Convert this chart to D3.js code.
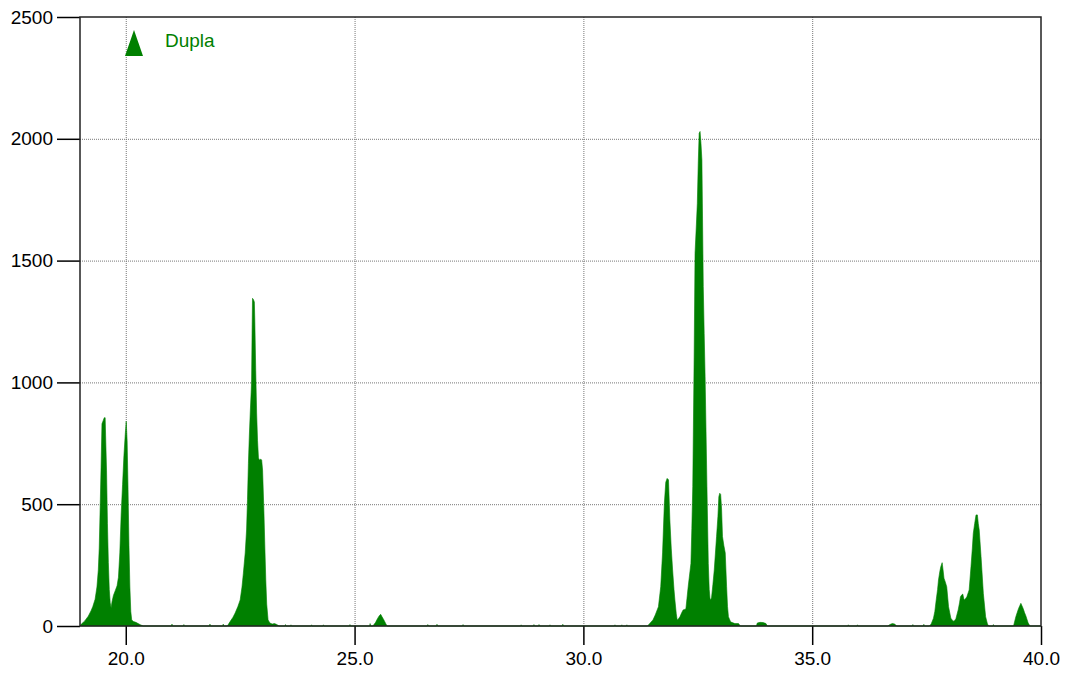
<!DOCTYPE html>
<html>
<head>
<meta charset="utf-8">
<script src="https://cdn.jsdelivr.net/npm/d3@7"></script>
<style>
  body { margin: 0; background: #fff; }
  text { font-family: Arial, "Liberation Sans", sans-serif; }
</style>
</head>
<body>
<div id="chart"></div>
<script>
// diffraction pattern, 2-theta vs counts
var twoTheta = [
  19.00, 19.03, 19.10, 19.18, 19.24, 19.28, 19.33, 19.37, 19.40, 19.42, 19.44, 19.46, 19.48, 19.51, 19.53, 19.55,
  19.56, 19.58, 19.60, 19.62, 19.64, 19.66, 19.68, 19.70, 19.73, 19.77, 19.81, 19.84, 19.87, 19.90, 19.93, 19.96,
  19.99, 20.01, 20.03, 20.05, 20.07, 20.09, 20.11, 20.13, 20.17, 20.22, 20.27, 20.32, 20.38,
  21.00, 21.01, 21.02, 21.26, 21.27, 21.28, 21.83, 21.84, 21.85, 22.12, 22.13, 22.14,
  22.22, 22.28, 22.34, 22.39, 22.45, 22.50, 22.54, 22.57, 22.61, 22.64, 22.66, 22.68, 22.70, 22.72, 22.74, 22.75,
  22.76, 22.77, 22.79, 22.81, 22.82, 22.84, 22.86, 22.88, 22.90, 22.92, 22.95, 22.97, 22.99, 23.02, 23.04, 23.06,
  23.08, 23.11, 23.15, 23.20, 23.25, 23.30, 23.35,
  23.48, 23.49, 23.50, 23.60, 23.61, 23.62, 24.05, 24.06, 24.07, 24.31, 24.32, 24.33, 24.89, 24.90, 24.91,
  25.33, 25.34, 25.35, 25.40, 25.46, 25.50, 25.54, 25.57, 25.60, 25.64, 25.68, 25.71,
  26.59, 26.60, 26.62, 26.79, 26.80, 26.82, 27.36, 27.37, 27.38, 28.63, 28.64, 28.65, 28.91, 28.92, 28.93,
  29.02, 29.03, 29.05, 29.26, 29.27, 29.28, 29.54, 29.55, 29.57, 30.68, 30.69, 30.70, 30.83, 30.84, 30.85,
  30.94, 30.95, 30.96,
  31.40, 31.46, 31.52, 31.57, 31.64, 31.69, 31.73, 31.77, 31.80, 31.83, 31.86, 31.89, 31.92, 31.95, 31.98, 32.00,
  32.03, 32.05, 32.08, 32.11, 32.15, 32.18, 32.21, 32.24, 32.29, 32.35, 32.37, 32.39, 32.42, 32.44, 32.47, 32.49,
  32.51, 32.53, 32.55, 32.57, 32.59, 32.62, 32.64, 32.66, 32.68, 32.70, 32.73, 32.75, 32.77, 32.80, 32.83, 32.86,
  32.91, 32.94, 32.96, 32.98, 33.00, 33.02, 33.04, 33.07, 33.10, 33.13, 33.15, 33.17, 33.21, 33.24, 33.31, 33.39,
  33.43, 33.78, 33.80, 33.86, 33.93, 33.99, 34.02,
  35.78, 35.79, 35.80, 35.98, 35.99, 36.00, 36.65, 36.70, 36.75, 36.80, 36.85,
  37.19, 37.20, 37.21, 37.43, 37.44, 37.45,
  37.56, 37.60, 37.65, 37.68, 37.71, 37.74, 37.76, 37.79, 37.81, 37.84, 37.86, 37.88, 37.91, 37.94, 37.98, 38.03,
  38.08, 38.11, 38.14, 38.19, 38.22, 38.24, 38.27, 38.29, 38.32, 38.35, 38.38, 38.43, 38.47, 38.50, 38.52, 38.55,
  38.58, 38.61, 38.63, 38.65, 38.69, 38.74, 38.79, 38.83, 38.86, 38.95, 38.96, 38.97,
  39.40, 39.45, 39.48, 39.51, 39.56, 39.61, 39.64, 39.67, 39.72, 39.76, 40.00
];
var counts = [
  0, 8, 20, 40, 62, 80, 110, 160, 230, 320, 480, 650, 830, 845, 855, 855,
  780, 640, 420, 260, 150, 95, 75, 100, 125, 145, 165, 200, 300, 460, 580, 700,
  790, 840, 760, 560, 330, 160, 60, 25, 18, 15, 10, 5, 0,
  0, 8, 0, 0, 6, 0, 0, 8, 0, 0, 8, 0,
  0, 18, 35, 53, 80, 107, 160, 217, 300, 394, 520, 668, 780, 874, 960, 1010,
  1200, 1345, 1340, 1330, 1256, 1050, 874, 760, 690, 681, 685, 681, 640, 463, 320, 189,
  90, 25, 12, 8, 10, 6, 0,
  0, 6, 0, 0, 5, 0, 0, 5, 0, 0, 5, 0, 0, 6, 0,
  0, 10, 0, 0, 15, 30, 42, 48, 38, 25, 10, 0,
  0, 6, 0, 0, 7, 0, 0, 6, 0, 0, 5, 0, 0, 6, 0,
  0, 6, 0, 0, 5, 0, 0, 7, 0, 0, 5, 0, 0, 5, 0,
  0, 5, 0,
  0, 12, 25, 45, 79, 161, 300, 505, 590, 606, 600, 435, 320, 230, 150, 107,
  50, 25, 30, 38, 55, 66, 68, 70, 161, 257, 400, 572, 1100, 1530, 1650, 1735,
  1900, 2023, 2030, 1980, 1913, 1393, 1200, 1023, 800, 572, 257, 150, 107, 115, 170, 230,
  367, 450, 531, 545, 540, 480, 367, 330, 300, 161, 80, 38, 20, 15, 10, 10,
  0, 0, 12, 15, 14, 10, 0,
  0, 5, 0, 0, 5, 0, 0, 6, 10, 8, 0,
  0, 6, 0, 0, 7, 0,
  0, 8, 32, 60, 107, 150, 189, 225, 243, 260, 230, 196, 180, 161, 79, 32,
  20, 22, 30, 66, 95, 120, 128, 131, 107, 112, 120, 148, 243, 320, 380, 420,
  456, 456, 420, 394, 284, 134, 38, 8, 0, 0, 6, 0,
  0, 38, 55, 72, 93, 72, 55, 41, 12, 0, 0
];
var xTicks = [20, 25, 30, 35, 40];
var yTicks = [0, 500, 1000, 1500, 2000, 2500];
var seriesName = "Dupla";

var width = 1065, height = 673;
var green = "#008000";
var fontSize = "19px";

var svg = d3.select("#chart").append("svg").attr("width", width).attr("height", height);

var x = d3.scaleLinear().domain([19, 40]).range([80, 1041]),
    y = d3.scaleLinear().domain([0, 2500]).range([626, 17]);

var pts = twoTheta.map(function (t, i) { return [t, counts[i]]; });

// grid
svg.append("g").selectAll("line.vg").data(xTicks.filter(function (d) { return d < 40; }))
  .enter().append("line")
  .attr("x1", function (d) { return x(d) + 0.5; }).attr("x2", function (d) { return x(d) + 0.5; })
  .attr("y1", y(2500)).attr("y2", y(0))
  .attr("stroke", "#777").attr("stroke-width", 1).attr("stroke-dasharray", "1,1");
svg.append("g").selectAll("line.hg").data(yTicks.filter(function (d) { return d > 0 && d < 2500; }))
  .enter().append("line")
  .attr("x1", x(19)).attr("x2", x(40))
  .attr("y1", function (d) { return y(d) + 0.5; }).attr("y2", function (d) { return y(d) + 0.5; })
  .attr("stroke", "#777").attr("stroke-width", 1).attr("stroke-dasharray", "1,1");

// the pattern
var area = d3.area()
  .x(function (d) { return x(d[0]); })
  .y0(y(0))
  .y1(function (d) { return y(d[1]); });
svg.append("path").datum(pts).attr("d", area).attr("fill", green).attr("stroke", green).attr("stroke-width", 0.6);

// axes
var xAxis = d3.axisBottom(x).tickValues(xTicks).tickSize(19).tickPadding(7).tickFormat(d3.format(".1f"));
var gx = svg.append("g").attr("transform", "translate(0," + y(0) + ")").call(xAxis);
var yAxis = d3.axisLeft(y).tickValues(yTicks).tickSize(23).tickPadding(4).tickFormat(d3.format("d"));
var gy = svg.append("g").attr("transform", "translate(" + x(19) + ",0)").call(yAxis);
[gx, gy].forEach(function (g) {
  g.select(".domain").remove();
  g.selectAll("line").attr("stroke", "#000").attr("stroke-width", 1.5);
  g.selectAll("text").attr("fill", "#000").style("font-size", fontSize).style("font-family", "Arial, 'Liberation Sans', sans-serif");
});

// frame
svg.append("rect").attr("x", x(19)).attr("y", y(2500))
  .attr("width", x(40) - x(19)).attr("height", y(0) - y(2500))
  .attr("fill", "none").attr("stroke", "#222").attr("stroke-width", 1.5);

// legend
svg.append("path").attr("d", "M134,30 L143,56 L125,56 Z").attr("fill", green);
svg.append("text").attr("x", 165).attr("y", 47).attr("fill", green)
  .style("font-size", fontSize).text(seriesName);
</script>
</body>
</html>
